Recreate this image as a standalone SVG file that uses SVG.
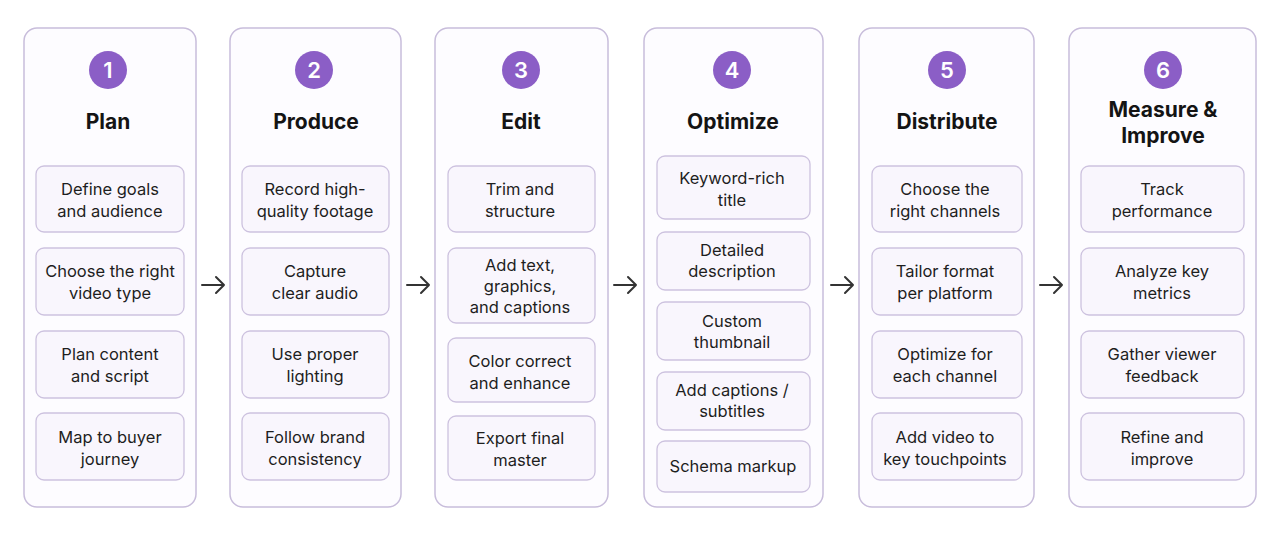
<svg xmlns="http://www.w3.org/2000/svg" width="1280" height="533" viewBox="0 0 1280 533">
<defs>
<style>
.col{fill:#fdfcff;stroke:#c8bddb;stroke-width:1.5}
.box{fill:#f9f6fd;stroke:#cdc2df;stroke-width:1.3}
.num{fill:#8b5ec6}
.nt{font-family:Inter,"Noto Sans",sans-serif;font-size:22px;font-weight:600;fill:#fff;text-anchor:middle}
.ti{font-family:Inter,"Noto Sans",sans-serif;font-size:21px;font-weight:700;fill:#141414;text-anchor:middle}
.tx{font-family:Inter,"Noto Sans",sans-serif;font-size:16.5px;fill:#1e1e1e;text-anchor:middle}
.ar{fill:none;stroke:#333;stroke-width:2;stroke-linecap:round;stroke-linejoin:round}
</style>
</defs>
<rect width="1280" height="533" fill="#ffffff"/>
<g id="connectors">
<path class="ar" d="M202 285H224M216 277L224 285L216 293"/>
<path class="ar" d="M407 285H429M421 277L429 285L421 293"/>
<path class="ar" d="M614 285H636M628 277L636 285L628 293"/>
<path class="ar" d="M831 285H853M845 277L853 285L845 293"/>
<path class="ar" d="M1040 285H1062M1054 277L1062 285L1054 293"/>
</g>
<g id="step1">
<rect class="col" x="24" y="28" width="172" height="479" rx="13"/>
<circle class="num" cx="108" cy="70" r="19"/><text class="nt" x="108" y="78">1</text>
<text class="ti" x="108" y="129">Plan</text>
<g id="s1a"><rect class="box" x="36" y="166" width="148" height="66" rx="8"/><text class="tx" x="110" y="195">Define goals</text><text class="tx" x="110" y="217">and audience</text></g>
<g id="s1b"><rect class="box" x="36" y="248" width="148" height="67" rx="8"/><text class="tx" x="110" y="277">Choose the right</text><text class="tx" x="110" y="299">video type</text></g>
<g id="s1c"><rect class="box" x="36" y="331" width="148" height="67" rx="8"/><text class="tx" x="110" y="360">Plan content</text><text class="tx" x="110" y="382">and script</text></g>
<g id="s1d"><rect class="box" x="36" y="413" width="148" height="67" rx="8"/><text class="tx" x="110" y="443">Map to buyer</text><text class="tx" x="110" y="465">journey</text></g>
</g>
<g id="step2">
<rect class="col" x="230" y="28" width="171" height="479" rx="13"/>
<circle class="num" cx="314" cy="70" r="19"/><text class="nt" x="314" y="78">2</text>
<text class="ti" x="316" y="129">Produce</text>
<g id="s2a"><rect class="box" x="242" y="166" width="147" height="66" rx="8"/><text class="tx" x="315" y="195">Record high-</text><text class="tx" x="315" y="217">quality footage</text></g>
<g id="s2b"><rect class="box" x="242" y="248" width="147" height="67" rx="8"/><text class="tx" x="315" y="277">Capture</text><text class="tx" x="315" y="299">clear audio</text></g>
<g id="s2c"><rect class="box" x="242" y="331" width="147" height="67" rx="8"/><text class="tx" x="315" y="360">Use proper</text><text class="tx" x="315" y="382">lighting</text></g>
<g id="s2d"><rect class="box" x="242" y="413" width="147" height="67" rx="8"/><text class="tx" x="315" y="443">Follow brand</text><text class="tx" x="315" y="465">consistency</text></g>
</g>
<g id="step3">
<rect class="col" x="435" y="28" width="173" height="479" rx="13"/>
<circle class="num" cx="521" cy="70" r="19"/><text class="nt" x="521" y="78">3</text>
<text class="ti" x="521" y="129">Edit</text>
<g id="s3a"><rect class="box" x="448" y="166" width="147" height="66" rx="8"/><text class="tx" x="520" y="195">Trim and</text><text class="tx" x="520" y="217">structure</text></g>
<g id="s3b"><rect class="box" x="448" y="248" width="147" height="75" rx="8"/><text class="tx" x="520" y="271">Add text,</text><text class="tx" x="520" y="292">graphics,</text><text class="tx" x="520" y="313">and captions</text></g>
<g id="s3c"><rect class="box" x="448" y="338" width="147" height="64" rx="8"/><text class="tx" x="520" y="367">Color correct</text><text class="tx" x="520" y="389">and enhance</text></g>
<g id="s3d"><rect class="box" x="448" y="416" width="147" height="64" rx="8"/><text class="tx" x="520" y="444">Export final</text><text class="tx" x="520" y="466">master</text></g>
</g>
<g id="step4">
<rect class="col" x="644" y="28" width="179" height="479" rx="13"/>
<circle class="num" cx="732" cy="70" r="19"/><text class="nt" x="732" y="78">4</text>
<text class="ti" x="733" y="129">Optimize</text>
<g id="s4a"><rect class="box" x="657" y="156" width="153" height="63" rx="8"/><text class="tx" x="732" y="184">Keyword-rich</text><text class="tx" x="732" y="206">title</text></g>
<g id="s4b"><rect class="box" x="657" y="232" width="153" height="58" rx="8"/><text class="tx" x="732" y="256">Detailed</text><text class="tx" x="732" y="277">description</text></g>
<g id="s4c"><rect class="box" x="657" y="302" width="153" height="58" rx="8"/><text class="tx" x="732" y="327">Custom</text><text class="tx" x="732" y="348">thumbnail</text></g>
<g id="s4d"><rect class="box" x="657" y="372" width="153" height="58" rx="8"/><text class="tx" x="732" y="396">Add captions /</text><text class="tx" x="732" y="417">subtitles</text></g>
<g id="s4e"><rect class="box" x="657" y="441" width="153" height="51" rx="8"/><text class="tx" x="733" y="472">Schema markup</text></g>
</g>
<g id="step5">
<rect class="col" x="859" y="28" width="175" height="479" rx="13"/>
<circle class="num" cx="947" cy="70" r="19"/><text class="nt" x="947" y="78">5</text>
<text class="ti" x="947" y="129">Distribute</text>
<g id="s5a"><rect class="box" x="872" y="166" width="150" height="66" rx="8"/><text class="tx" x="945" y="195">Choose the</text><text class="tx" x="945" y="217">right channels</text></g>
<g id="s5b"><rect class="box" x="872" y="248" width="150" height="67" rx="8"/><text class="tx" x="945" y="277">Tailor format</text><text class="tx" x="945" y="299">per platform</text></g>
<g id="s5c"><rect class="box" x="872" y="331" width="150" height="67" rx="8"/><text class="tx" x="945" y="360">Optimize for</text><text class="tx" x="945" y="382">each channel</text></g>
<g id="s5d"><rect class="box" x="872" y="413" width="150" height="67" rx="8"/><text class="tx" x="945" y="443">Add video to</text><text class="tx" x="945" y="465">key touchpoints</text></g>
</g>
<g id="step6">
<rect class="col" x="1069" y="28" width="187" height="479" rx="13"/>
<circle class="num" cx="1163" cy="70" r="19"/><text class="nt" x="1163" y="78">6</text>
<text class="ti" x="1163" y="117">Measure &amp;</text>
<text class="ti" x="1163" y="143">Improve</text>
<g id="s6a"><rect class="box" x="1081" y="166" width="163" height="66" rx="8"/><text class="tx" x="1162" y="195">Track</text><text class="tx" x="1162" y="217">performance</text></g>
<g id="s6b"><rect class="box" x="1081" y="248" width="163" height="67" rx="8"/><text class="tx" x="1162" y="277">Analyze key</text><text class="tx" x="1162" y="299">metrics</text></g>
<g id="s6c"><rect class="box" x="1081" y="331" width="163" height="67" rx="8"/><text class="tx" x="1162" y="360">Gather viewer</text><text class="tx" x="1162" y="382">feedback</text></g>
<g id="s6d"><rect class="box" x="1081" y="413" width="163" height="67" rx="8"/><text class="tx" x="1162" y="443">Refine and</text><text class="tx" x="1162" y="465">improve</text></g>
</g>
</svg>
